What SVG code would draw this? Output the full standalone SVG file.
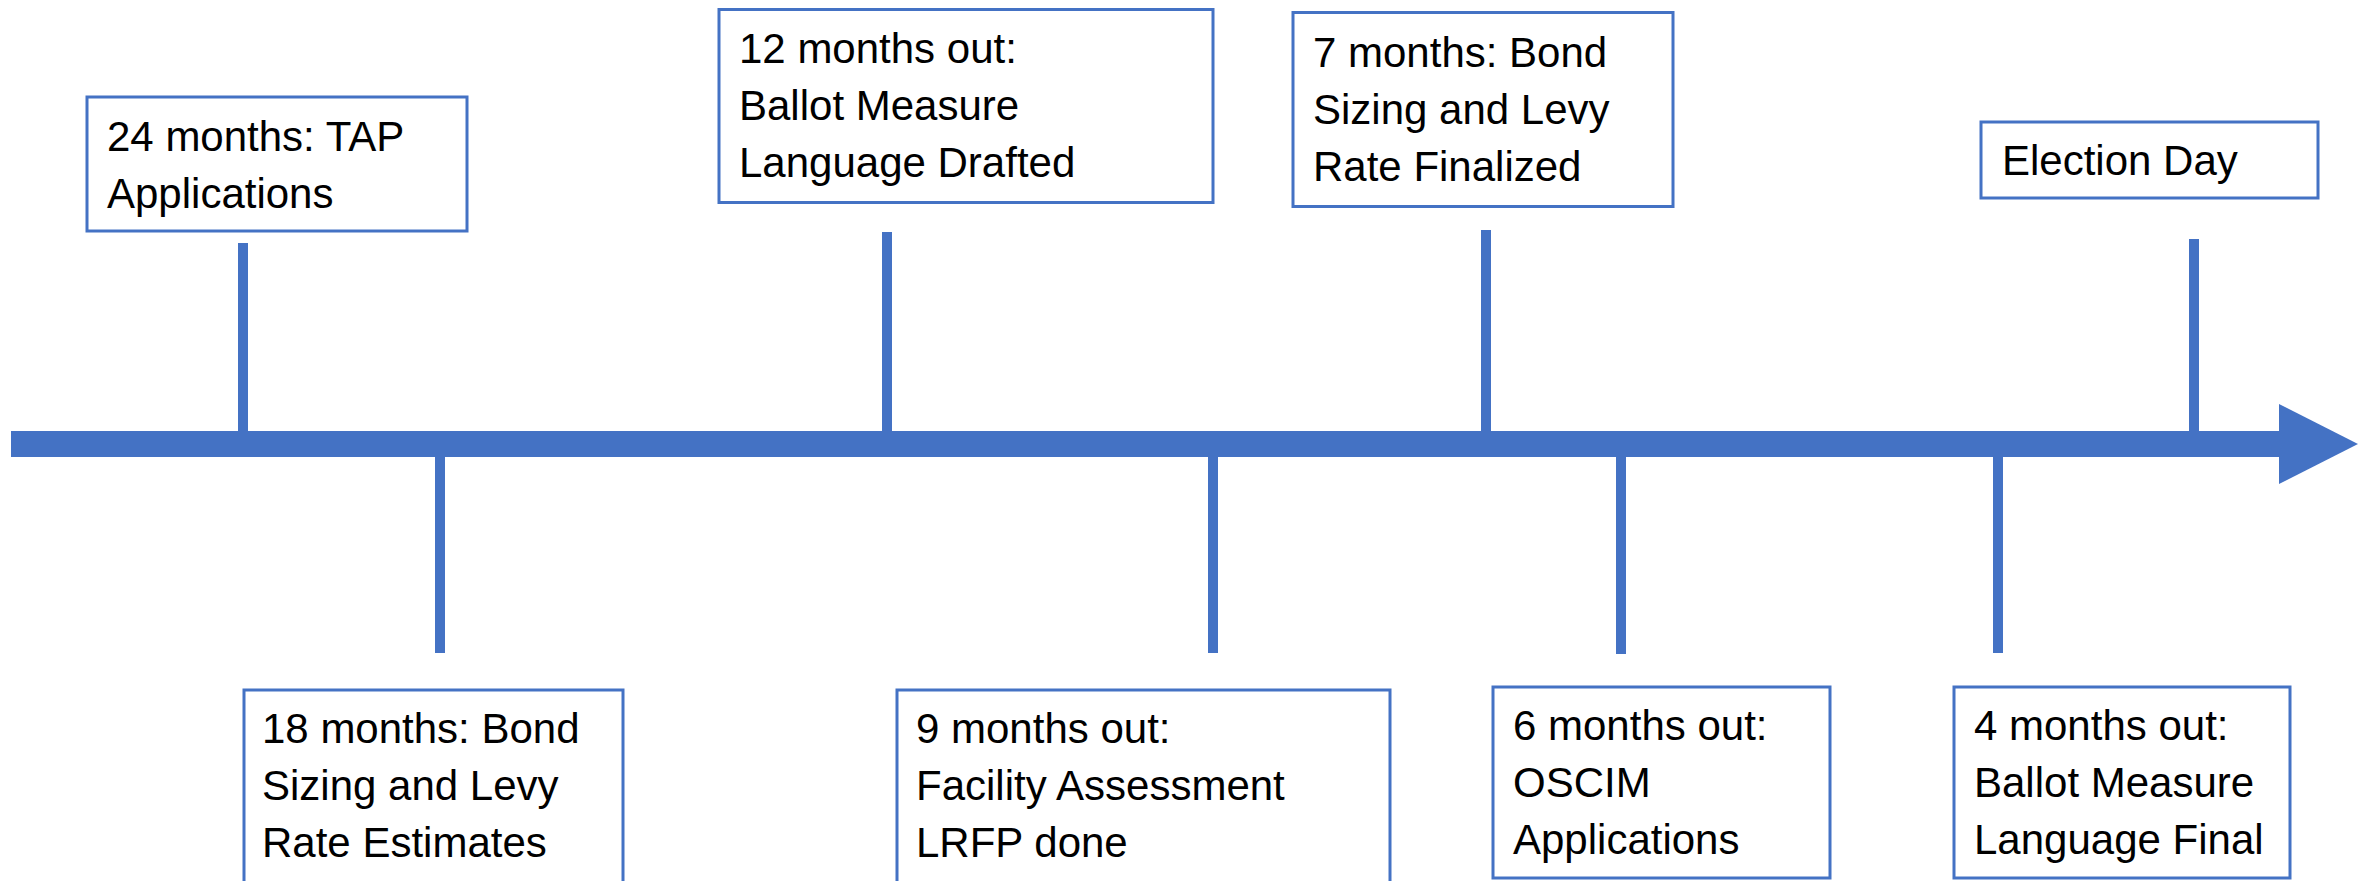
<svg xmlns="http://www.w3.org/2000/svg" width="2371" height="881" viewBox="0 0 2371 881">
<style>
.box{fill:#ffffff;stroke:#4472C4;stroke-width:3}
.tick{stroke:#4472C4;stroke-width:10;fill:none}
.axis{fill:#4472C4}
text{font-family:"Liberation Sans",Arial,sans-serif;font-size:42px;fill:#000000}
</style>
<rect x="0" y="0" width="2371" height="881" fill="#ffffff"/>
<g id="connectors">
<rect class="axis" x="11" y="431" width="2270" height="26"/>
<polygon class="axis" points="2279,404 2358,444 2279,484"/>
<line class="tick" x1="243" y1="243" x2="243" y2="432"/>
<line class="tick" x1="887" y1="232" x2="887" y2="432"/>
<line class="tick" x1="1486" y1="230" x2="1486" y2="432"/>
<line class="tick" x1="2194" y1="239" x2="2194" y2="432"/>
<line class="tick" x1="440" y1="456" x2="440" y2="653"/>
<line class="tick" x1="1213" y1="456" x2="1213" y2="653"/>
<line class="tick" x1="1621" y1="456" x2="1621" y2="654"/>
<line class="tick" x1="1998" y1="456" x2="1998" y2="653"/>
</g>
<g id="n24">
<rect class="box" x="87" y="97" width="380" height="134"/>
<text x="107" y="151">24 months: TAP</text>
<text x="107" y="208">Applications</text>
</g>
<g id="n12">
<rect class="box" x="719" y="9.5" width="494" height="193"/>
<text x="739" y="63">12 months out:</text>
<text x="739" y="120">Ballot Measure</text>
<text x="739" y="177">Language Drafted</text>
</g>
<g id="n7">
<rect class="box" x="1293" y="12.5" width="380" height="194"/>
<text x="1313" y="67">7 months: Bond</text>
<text x="1313" y="124">Sizing and Levy</text>
<text x="1313" y="181">Rate Finalized</text>
</g>
<g id="nElection">
<rect class="box" x="1981" y="122" width="337" height="76"/>
<text x="2002" y="175">Election Day</text>
</g>
<g id="n18">
<rect class="box" x="244" y="690" width="379" height="200"/>
<text x="262" y="743">18 months: Bond</text>
<text x="262" y="800">Sizing and Levy</text>
<text x="262" y="857">Rate Estimates</text>
</g>
<g id="n9">
<rect class="box" x="897" y="690" width="493" height="200"/>
<text x="916" y="743">9 months out:</text>
<text x="916" y="800">Facility Assessment</text>
<text x="916" y="857">LRFP done</text>
</g>
<g id="n6">
<rect class="box" x="1493" y="687" width="337" height="191"/>
<text x="1513" y="740">6 months out:</text>
<text x="1513" y="797">OSCIM</text>
<text x="1513" y="854">Applications</text>
</g>
<g id="n4">
<rect class="box" x="1954" y="687" width="336" height="191"/>
<text x="1974" y="740">4 months out:</text>
<text x="1974" y="797">Ballot Measure</text>
<text x="1974" y="854">Language Final</text>
</g>
</svg>
